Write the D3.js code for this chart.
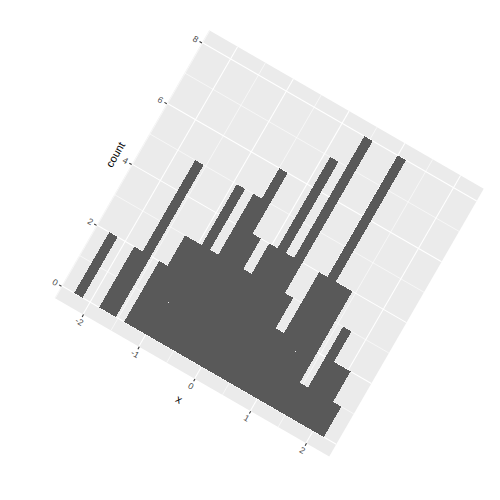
<!DOCTYPE html>
<html>
<head>
<meta charset="utf-8">
<script src="https://cdn.jsdelivr.net/npm/d3@7"></script>
<style>
  body { margin: 0; background: #fff; }
  text { font-family: "Liberation Sans", Arial, sans-serif; }
</style>
</head>
<body>
<svg id="chart" width="500" height="500"></svg>
<script>
// ggplot-style histogram (30 bins), whole plot tilted 30 degrees clockwise
const counts = [2, 0, 0, 2, 5, 0, 2, 3, 3, 5, 3, 5, 6, 4, 3, 4, 7, 4, 8, 3, 2, 4, 8, 4, 4, 1, 3, 2, 2, 1];
const dataRange = [-2.211, 2.117];
const xTicks = [-2, -1, 0, 1, 2];
const yTicks = [0, 2, 4, 6, 8];

const panelW = 317, panelH = 309;
const center = [269.2, 243.4], angle = 30;

// bins are centred on the data min and max, like stat_bin(bins = 30)
const binW = (dataRange[1] - dataRange[0]) / (counts.length - 1);
const bins = counts.map(function(n, i) {
    return {x0: dataRange[0] + (i - 0.5) * binW, x1: dataRange[0] + (i + 0.5) * binW, n: n};
});
const lo = bins[0].x0, hi = bins[bins.length - 1].x1;
const xPad = (hi - lo) * 0.05;
const yTop = d3.max(counts);

const x = d3.scaleLinear()
    .domain([lo - xPad, hi + xPad])
    .range([-panelW / 2, panelW / 2]);

const y = d3.scaleLinear()
    .domain([-yTop * 0.05, yTop * 1.05])
    .range([panelH / 2, -panelH / 2]);

function minorOf(ticks, scale) {
    var step = ticks[1] - ticks[0], out = [];
    var d = scale.domain();
    for (var i = -1; i < ticks.length; i++) {
        var v = ticks[0] + (i + 0.5) * step;
        if (v >= d[0] && v <= d[1]) out.push(v);
    }
    return out;
}

var svg = d3.select('#chart');
var plot = svg.append('g')
    .attr('transform', 'translate(' + center[0] + ',' + center[1] + ') rotate(' + angle + ')');

// panel
plot.append('rect')
    .attr('x', -panelW / 2).attr('y', -panelH / 2)
    .attr('width', panelW).attr('height', panelH)
    .attr('fill', '#EBEBEB');

var grid = plot.append('g').attr('stroke', '#fff').attr('fill', 'none');

grid.selectAll('line.xminor').data(minorOf(xTicks, x)).enter().append('line')
    .attr('class', 'xminor').attr('stroke-width', 0.53)
    .attr('x1', x).attr('x2', x).attr('y1', -panelH / 2).attr('y2', panelH / 2);
grid.selectAll('line.yminor').data(minorOf(yTicks, y)).enter().append('line')
    .attr('class', 'yminor').attr('stroke-width', 0.53)
    .attr('y1', y).attr('y2', y).attr('x1', -panelW / 2).attr('x2', panelW / 2);
grid.selectAll('line.xmajor').data(xTicks).enter().append('line')
    .attr('class', 'xmajor').attr('stroke-width', 1.07)
    .attr('x1', x).attr('x2', x).attr('y1', -panelH / 2).attr('y2', panelH / 2);
grid.selectAll('line.ymajor').data(yTicks).enter().append('line')
    .attr('class', 'ymajor').attr('stroke-width', 1.07)
    .attr('y1', y).attr('y2', y).attr('x1', -panelW / 2).attr('x2', panelW / 2);

// bars (aliased edges, like the png device, so neighbours don't show seams)
plot.append('g').attr('shape-rendering', 'crispEdges')
    .selectAll('rect').data(bins.filter(function(b) { return b.n > 0; })).enter().append('rect')
    .attr('x', function(d) { return x(d.x0); })
    .attr('width', function(d) { return x(d.x1) - x(d.x0); })
    .attr('y', function(d) { return y(d.n); })
    .attr('height', function(d) { return y(0) - y(d.n); })
    .attr('fill', '#595959');

// axes
var xAxis = plot.append('g')
    .attr('transform', 'translate(0,' + panelH / 2 + ')')
    .call(d3.axisBottom(x).tickValues(xTicks).tickSize(2.75).tickPadding(2.2)
        .tickFormat(function(d) { return String(d); }));
var yAxis = plot.append('g')
    .attr('transform', 'translate(' + (-panelW / 2) + ',0)')
    .call(d3.axisLeft(y).tickValues(yTicks).tickSize(2.75).tickPadding(2.2)
        .tickFormat(function(d) { return String(d); }));

[xAxis, yAxis].forEach(function(a) {
    a.select('.domain').remove();
    a.selectAll('.tick line').attr('stroke', '#333333').attr('stroke-width', 1.07);
    a.selectAll('.tick text')
        .attr('fill', '#4D4D4D')
        .style('font-size', '8.8px')
        .style('font-family', '"Liberation Sans", Arial, sans-serif');
});

// axis titles
plot.append('text')
    .attr('x', 0).attr('y', panelH / 2 + 29.5)
    .attr('text-anchor', 'middle')
    .style('font-size', '11px')
    .text('x');

plot.append('text')
    .attr('transform', 'translate(' + (-panelW / 2 - 15.3) + ',0) rotate(-90)')
    .attr('text-anchor', 'middle')
    .style('font-size', '11px')
    .text('count');
</script>
</body>
</html>
